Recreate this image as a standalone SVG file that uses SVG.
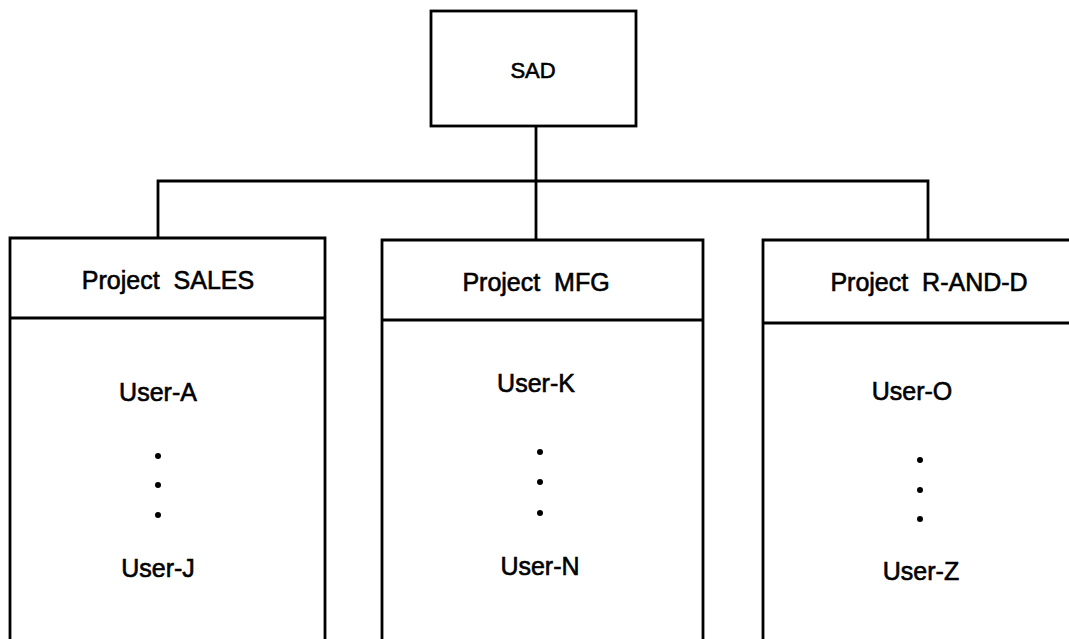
<svg xmlns="http://www.w3.org/2000/svg" width="1069" height="639" viewBox="0 0 1069 639">
<style>
.box{fill:none;stroke:#000;stroke-width:2.8}
.ln{fill:none;stroke:#000;stroke-width:2.8}
.t{font-family:"Liberation Sans",Arial,sans-serif;font-size:25px;fill:#000;stroke:#000;stroke-width:0.6;text-anchor:middle}
.s{font-size:22px}
.d{fill:#000}
</style>
<rect width="1069" height="639" fill="#fff"/>
<g id="connectors">
<line class="ln" x1="536" y1="126" x2="536" y2="240"/>
<polyline class="ln" points="158,238 158,181 928,181 928,240"/>
</g>
<g id="sad">
<rect class="box" x="431" y="11" width="205" height="115"/>
<text class="t s" x="533" y="78">SAD</text>
</g>
<g id="sales">
<path class="box" d="M10,645 V238 H325 V645 M10,318 H325"/>
<text class="t" x="168" y="289" xml:space="preserve">Project  SALES</text>
<text class="t" x="158" y="401">User-A</text>
<circle class="d" cx="158" cy="456" r="3"/>
<circle class="d" cx="158" cy="485" r="3"/>
<circle class="d" cx="158" cy="515" r="3"/>
<text class="t" x="158" y="577">User-J</text>
</g>
<g id="mfg">
<path class="box" d="M382,645 V240 H703 V645 M382,320 H703"/>
<text class="t" x="536" y="291" xml:space="preserve">Project  MFG</text>
<text class="t" x="536" y="392">User-K</text>
<circle class="d" cx="540" cy="452" r="3"/>
<circle class="d" cx="540" cy="482" r="3"/>
<circle class="d" cx="540" cy="513" r="3"/>
<text class="t" x="540" y="575">User-N</text>
</g>
<g id="randd">
<path class="box" d="M763,645 V240 H1075 M763,323 H1075"/>
<text class="t" x="929" y="291" xml:space="preserve">Project  R-AND-D</text>
<text class="t" x="912" y="400">User-O</text>
<circle class="d" cx="920" cy="460" r="3"/>
<circle class="d" cx="920" cy="490" r="3"/>
<circle class="d" cx="920" cy="519" r="3"/>
<text class="t" x="921" y="580">User-Z</text>
</g>
</svg>
